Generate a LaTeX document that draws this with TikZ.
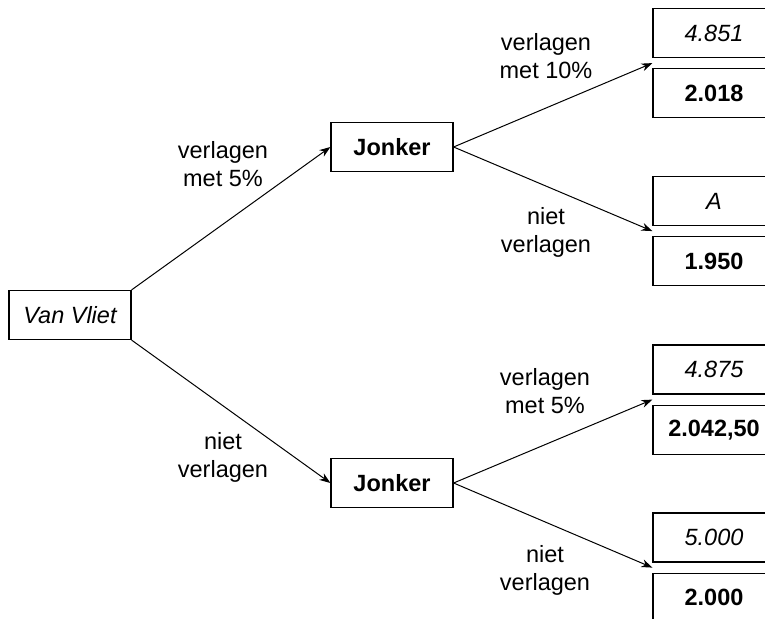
\documentclass[tikz,border=0pt]{standalone}
\usepackage{fontspec}
\setmainfont{Liberation Sans}
\usetikzlibrary{positioning,arrows.meta,calc}
\newcommand{\treefont}{\fontsize{23.5bp}{28bp}\selectfont}
\tikzset{
		>={Stealth[length=11bp,width=8bp]},
			box/.style={draw=black, line width=1.2bp, minimum width=122bp,
				minimum height=49bp, inner sep=0pt},
			player/.style={box, font=\treefont\itshape},
			pay/.style={box, font=\treefont\itshape},
			gain/.style={box, font=\treefont\bfseries},
			annot/.style={align=center, font=\treefont},
			branch/.style={->, line width=1bp},
		}

\begin{document}
\begin{tikzpicture}
				[x=1bp, y=-1bp, node distance=10bp]
				\useasboundingbox (0,0) rectangle (765,619);

				\node[player] (vliet)   at (70,315)  {Van Vliet};
				\node[gain]   (jonker1) at (392,147) {Jonker};
				\node[gain]   (jonker2) at (392,483) {Jonker};

				\node[pay]  (p1) at (714,33)  {4.851};
				\node[gain, below=of p1] (g1) {2.018};
				\node[pay]  (p2) at (714,201) {A};
				\node[gain, below=of p2] (g2) {1.950};
				\node[pay]  (p3) at (714,369.5) {4.875};
				\node[gain, below=of p3] (g3) {2.042,50};
				\node[pay]  (p4) at (714,537.5) {5.000};
				\node[gain, below=of p4] (g4) {2.000};

				\coordinate (e1) at ($(p1.south west)!.5!(g1.north west)$);
				\coordinate (e2) at ($(p2.south west)!.5!(g2.north west)$);
				\coordinate (e3) at ($(p3.south west)!.5!(g3.north west)$);
				\coordinate (e4) at ($(p4.south west)!.5!(g4.north west)$);

				\draw[branch] (vliet.north east) -- (jonker1.west);
				\draw[branch] (vliet.south east) -- (jonker2.west);
				\draw[branch] (jonker1.east) -- (e1);
				\draw[branch] (jonker1.east) -- (e2);
				\draw[branch] (jonker2.east) -- (e3);
				\draw[branch] (jonker2.east) -- (e4);

				\node[annot] (a1) at (223,164) {verlagen\\met 5\%};
				\node[annot] (a2) at (223,457) {niet\\verlagen};
				\node[annot] (a3) at (546,56)  {verlagen\\met 10\%};
				\node[annot] (a4) at (546,232) {niet\\verlagen};
				\node[annot] (a5) at (545,391) {verlagen\\met 5\%};
				\node[annot] (a6) at (545,570) {niet\\verlagen};

			\end{tikzpicture}
\end{document}
